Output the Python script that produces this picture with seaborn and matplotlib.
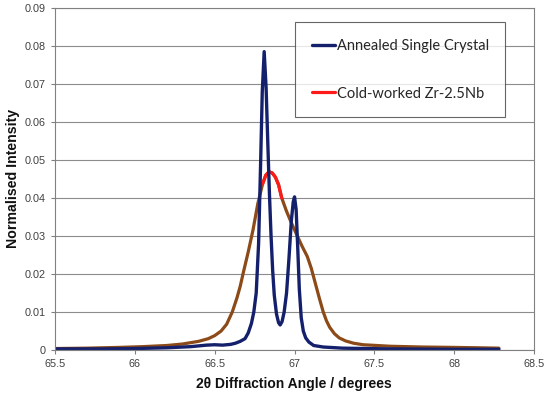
import numpy as np
import pandas as pd
import seaborn as sns
import matplotlib.pyplot as plt
from matplotlib.lines import Line2D
from matplotlib.ticker import FuncFormatter

# Annealed single crystal
annealed_angle = [65.5, 65.8, 66.0, 66.2, 66.35, 66.45, 66.5, 66.55, 66.6, 66.63,
                  66.66, 66.69, 66.71, 66.73, 66.745, 66.76, 66.775, 66.787, 66.798, 66.81,
                  66.822, 66.833, 66.843, 66.853, 66.863, 66.873, 66.887, 66.90, 66.91, 66.922,
                  66.935, 66.95, 66.965, 66.98, 66.992, 67.0, 67.01, 67.02, 67.03, 67.042,
                  67.055, 67.07, 67.09, 67.12, 67.18, 67.3, 67.6, 68.0, 68.28]
annealed_int = [0.0003, 0.0003, 0.0004, 0.0006, 0.0009, 0.0013, 0.0014, 0.0013, 0.0015, 0.0018,
                0.0023, 0.0030, 0.0045, 0.0070, 0.0100, 0.015, 0.028, 0.048, 0.068, 0.0785,
                0.069, 0.054, 0.041, 0.030, 0.021, 0.0145, 0.0095, 0.0072, 0.0066, 0.0075,
                0.0100, 0.0150, 0.0240, 0.0340, 0.0390, 0.0403, 0.0370, 0.0270, 0.0160, 0.0085,
                0.0050, 0.0032, 0.0021, 0.0012, 0.0008, 0.0005, 0.0003, 0.0002, 0.0002]

# Cold-worked Zr-2.5Nb
cold_angle = [65.5, 65.7, 65.9, 66.05, 66.2, 66.3, 66.4, 66.46, 66.5, 66.54,
              66.575, 66.61, 66.64, 66.66, 66.68, 66.71, 66.74, 66.77, 66.80, 66.82,
              66.84, 66.86, 66.88, 66.90, 66.92, 66.95, 66.98, 67.01, 67.045, 67.08,
              67.105, 67.13, 67.155, 67.18, 67.2, 67.22, 67.25, 67.28, 67.32, 67.37,
              67.43, 67.6, 67.8, 68.0, 68.15, 68.28]
cold_int = [0.0004, 0.0005, 0.0007, 0.0009, 0.0012, 0.0016, 0.0023, 0.0030, 0.0038, 0.0050,
            0.0068, 0.0100, 0.0138, 0.0168, 0.0205, 0.0258, 0.0316, 0.0385, 0.0437, 0.0460,
            0.0469, 0.0466, 0.0455, 0.0435, 0.0400, 0.0365, 0.0335, 0.0307, 0.0275, 0.0246,
            0.0215, 0.0176, 0.0137, 0.0100, 0.0077, 0.0060, 0.0043, 0.0032, 0.0024, 0.0018,
            0.0014, 0.0010, 0.0008, 0.0007, 0.0006, 0.0005]

y_ticks = [0, 0.01, 0.02, 0.03, 0.04, 0.05, 0.06, 0.07, 0.08, 0.09]
x_ticks = [65.5, 66, 66.5, 67, 67.5, 68, 68.5]

df_ann = pd.DataFrame({'angle': annealed_angle, 'intensity': annealed_int})
df_cold = pd.DataFrame({'angle': cold_angle, 'intensity': cold_int})
# top part of the cold-worked curve shows in bright red, the rest looks brown
df_cold_top = df_cold.copy()
df_cold_top.loc[df_cold_top['intensity'] < 0.0398, 'intensity'] = np.nan

sns.set_theme(style='white')
plt.rcParams['font.family'] = ['Liberation Sans', 'DejaVu Sans']

fig = plt.figure(figsize=(5.5, 3.96), dpi=100)
ax = fig.add_axes([0.1, 0.116, 0.871, 0.864])

navy = '#14206b'
red = '#ff1a1a'
brown = '#8b4a17'

sns.lineplot(data=df_cold, x='angle', y='intensity', ax=ax, color=brown, lw=2.3,
             sort=False, estimator=None)
sns.lineplot(data=df_cold_top, x='angle', y='intensity', ax=ax, color=red, lw=2.3,
             sort=False, estimator=None)
sns.lineplot(data=df_ann, x='angle', y='intensity', ax=ax, color=navy, lw=2.4,
             sort=False, estimator=None)

ax.set_xlim(65.5, 68.5)
ax.set_ylim(0, 0.09)
ax.set_xticks(x_ticks)
ax.set_yticks(y_ticks)
ax.xaxis.set_major_formatter(FuncFormatter(lambda v, p: f'{v:g}'))
ax.yaxis.set_major_formatter(FuncFormatter(lambda v, p: '0' if v == 0 else f'{v:.2f}'))
ax.tick_params(axis='both', labelsize=7.8, labelcolor='#404040', colors='#808080',
               length=3, width=0.8, direction='out', bottom=True, left=True)
ax.grid(axis='y', color='#8c8c8c', lw=0.8)
ax.grid(axis='x', visible=False)
for s in ax.spines.values():
    s.set_color('#808080')
    s.set_linewidth(0.8)

ax.set_xlabel('')
ax.set_ylabel('')
fig.text(294 / 550, 12 / 396, '2θ Diffraction Angle / degrees', fontsize=10,
         fontweight='bold', color='#111111', ha='center', va='center')
fig.text(13 / 550, 1 - 178 / 396, 'Normalised Intensity', fontsize=10.2,
         fontweight='bold', color='#111111', ha='center', va='center', rotation=90)

handles = [Line2D([], [], color=navy, lw=2.4), Line2D([], [], color=red, lw=2.3)]
leg = ax.legend(handles, ['Annealed Single Crystal', 'Cold-worked Zr-2.5Nb'],
                loc='upper left', bbox_to_anchor=(0.501, 0.958),
                frameon=True, fancybox=False, borderpad=1.15, labelspacing=2.3,
                handlelength=1.6, handletextpad=0.1, borderaxespad=0,
                prop={'family': 'Lato', 'size': 10.5})
leg.get_frame().set_edgecolor('#404040')
leg.get_frame().set_linewidth(0.8)

fig.savefig('out.png', dpi=100)
